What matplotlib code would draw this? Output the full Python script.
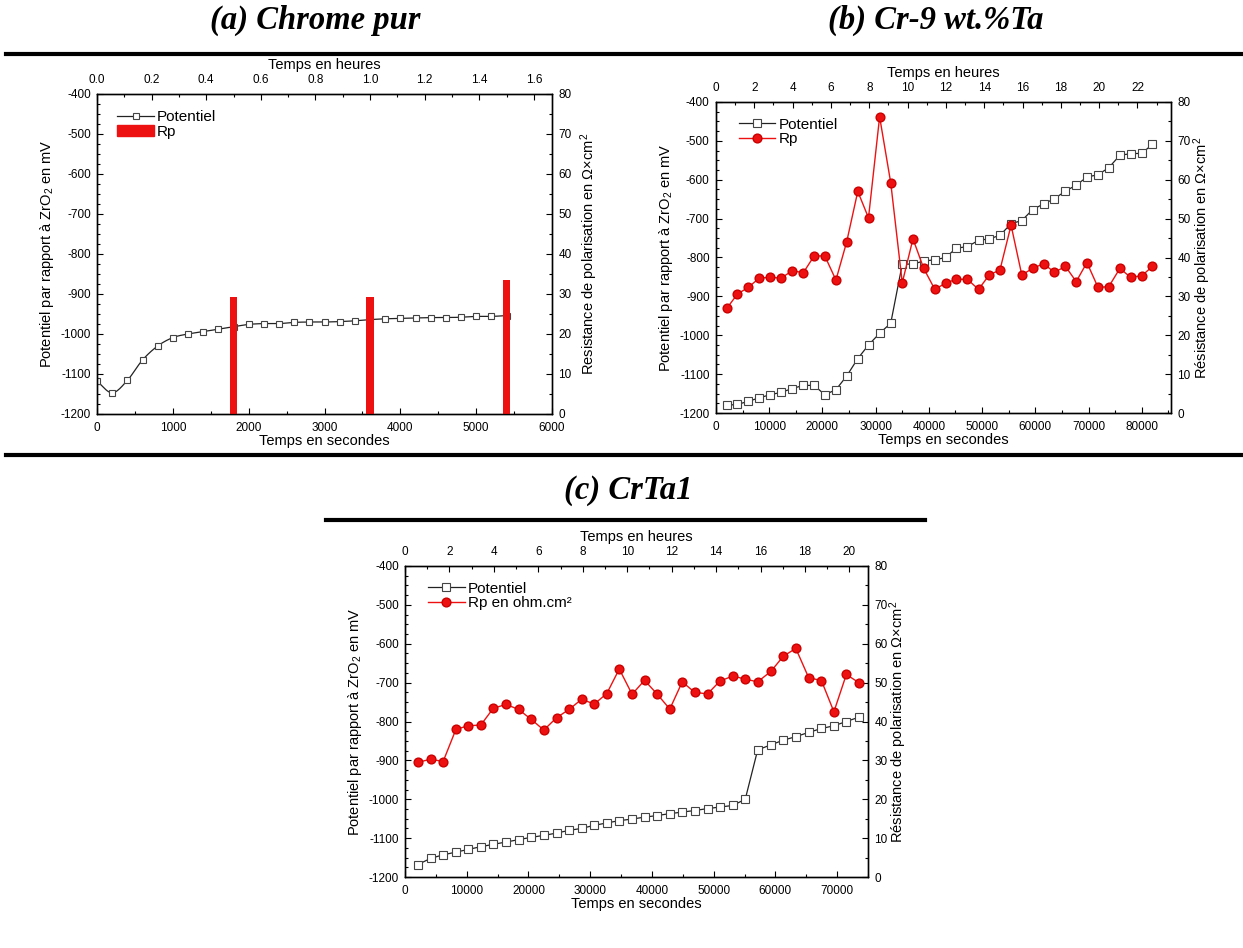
import numpy as np
import matplotlib
matplotlib.use('Agg')
import matplotlib.pyplot as plt
from matplotlib.lines import Line2D
from matplotlib.patches import Patch
from matplotlib.ticker import MultipleLocator, AutoMinorLocator

plt.rcParams.update({
    'font.family': ['Liberation Sans', 'DejaVu Sans'],
    'axes.unicode_minus': False,
    'mathtext.fontset': 'custom',
    'mathtext.rm': 'Liberation Sans',
    'mathtext.it': 'Liberation Sans:italic',
    'xtick.direction': 'in',
    'ytick.direction': 'in',
})

# (a) Chrome pur
t_a = [0, 200, 400, 600, 800, 1000, 1200, 1400, 1600, 1800, 2000, 2200, 2400, 2600,
       2800, 3000, 3200, 3400, 3600, 3800, 4000, 4200, 4400, 4600, 4800, 5000, 5200, 5400]
e_a = [-1118, -1147, -1116, -1065, -1030, -1009, -1000, -994, -988, -982, -976, -974, -974, -971,
       -970, -970, -969, -967, -964, -962, -961, -960, -959, -959, -958, -956, -956, -954]
rp_t_a = [1800, 3600, 5400]
rp_a = [29.2, 29.2, 33.5]

# (b) Cr-9 wt.%Ta
t_b = [2015, 4030, 6045, 8134, 10150, 12239, 14328, 16418, 18433, 20448,
       22537, 24552, 26642, 28657, 30746, 32836, 35000, 37015, 39030, 41119,
       43134, 45149, 47239, 49328, 51343, 53358, 55448, 57463, 59478, 61567,
       63582, 65672, 67687, 69701, 71791, 73806, 75895, 77910, 80000, 82015]
e_b = [-1180, -1178, -1170, -1161, -1153, -1147, -1137, -1129, -1129, -1153,
       -1140, -1105, -1060, -1025, -995, -969, -817, -817, -809, -806,
       -800, -776, -772, -756, -752, -743, -713, -705, -677, -662,
       -649, -629, -614, -593, -587, -569, -537, -533, -532, -509]
rp_b = [26.9, 30.6, 32.3, 34.7, 34.9, 34.7, 36.6, 36.1, 40.4, 40.4,
        34.2, 44.0, 57.0, 50.2, 76.2, 59.2, 33.5, 44.8, 37.2, 31.8,
        33.4, 34.4, 34.4, 31.8, 35.5, 36.8, 48.3, 35.5, 37.2, 38.4,
        36.2, 37.7, 33.8, 38.7, 32.3, 32.5, 37.2, 34.9, 35.3, 37.7]

# (c) CrTa1
t_c = [2080, 4160, 6175, 8254, 10269, 12284, 14299, 16378, 18393, 20408,
       22488, 24567, 26582, 28597, 30677, 32692, 34707, 36787, 38801, 40816,
       42896, 44911, 46926, 49005, 51020, 53100, 55115, 57130, 59275, 61289,
       63304, 65384, 67463, 69478, 71493, 73508]
e_c = [-1168, -1152, -1143, -1136, -1129, -1122, -1116, -1110, -1104, -1098,
       -1093, -1087, -1080, -1075, -1067, -1061, -1055, -1051, -1046, -1042,
       -1037, -1033, -1029, -1024, -1020, -1016, -1000, -873, -860, -848,
       -839, -828, -818, -811, -800, -789]
rp_c = [29.5, 30.3, 29.7, 38.0, 38.9, 39.1, 43.4, 44.4, 43.1, 40.6,
        37.8, 41.0, 43.1, 45.7, 44.5, 47.2, 53.5, 47.0, 50.6, 47.1,
        43.2, 50.2, 47.5, 47.1, 50.4, 51.7, 50.9, 50.2, 52.9, 56.8,
        58.8, 51.3, 50.5, 42.5, 52.1, 50.0]

RED = '#ee1111'


def catmull_rom(x, y, n=12):
    x = np.asarray(x, float)
    y = np.asarray(y, float)
    px = np.concatenate([[2 * x[0] - x[1]], x, [2 * x[-1] - x[-2]]])
    py = np.concatenate([[2 * y[0] - y[1]], y, [2 * y[-1] - y[-2]]])
    s = np.linspace(0, 1, n, endpoint=False)
    xs, ys = [], []
    for i in range(1, len(px) - 2):
        for p, out in ((px, xs), (py, ys)):
            p0, p1, p2, p3 = p[i - 1], p[i], p[i + 1], p[i + 2]
            out.append(0.5 * (2 * p1 + (-p0 + p2) * s
                              + (2 * p0 - 5 * p1 + 4 * p2 - p3) * s ** 2
                              + (-p0 + 3 * p1 - 3 * p2 + p3) * s ** 3))
    return np.concatenate(xs + [[x[-1]]]), np.concatenate(ys + [[y[-1]]])


def panel(rect, xmax, xmajor, hmajor, rlabel):
    ax = fig.add_axes(rect)
    ax.set_xlim(0, xmax)
    ax.set_ylim(-1200, -400)
    ax.xaxis.set_major_locator(MultipleLocator(xmajor))
    ax.xaxis.set_minor_locator(AutoMinorLocator(2))
    ax.yaxis.set_major_locator(MultipleLocator(100))
    ax.yaxis.set_minor_locator(AutoMinorLocator(4))
    ax.set_xlabel('Temps en secondes', fontsize=10.5, labelpad=0)
    ax.set_ylabel(r'Potentiel par rapport à ZrO$_\mathregular{2}$ en mV', fontsize=10.5, labelpad=3)

    axr = ax.twinx()
    axr.set_ylim(0, 80)
    axr.yaxis.set_major_locator(MultipleLocator(10))
    axr.yaxis.set_minor_locator(AutoMinorLocator(2))
    axr.set_ylabel(rlabel, fontsize=10.5, labelpad=4)

    axt = ax.twiny()
    axt.set_xlim(0, xmax / 3600)
    axt.xaxis.set_major_locator(MultipleLocator(hmajor))
    axt.xaxis.set_minor_locator(AutoMinorLocator(2))
    axt.set_xlabel('Temps en heures', fontsize=10.5, labelpad=3)

    for a in (ax, axr, axt):
        a.tick_params(which='major', length=4.5, width=0.8, labelsize=8.5, pad=4.5)
        a.tick_params(which='minor', length=2.5, width=0.8)
        for sp in a.spines.values():
            sp.set_linewidth(0.9)
    ax.tick_params(axis='x', pad=6)
    axt.tick_params(axis='x', pad=6)
    return ax, axr, axt


fig = plt.figure(figsize=(12.43, 9.48), dpi=100)
W, H = 1243.0, 948.0


def rect(l, r, t, b):
    return [l / W, 1 - b / H, (r - l) / W, (b - t) / H]


sq = dict(color='#222222', marker='s', markersize=5.5, markerfacecolor='white',
          markeredgecolor='#444444', markeredgewidth=0.8, linewidth=0.9)
rd = dict(color=RED, marker='o', markersize=6.3, markerfacecolor=RED,
          markeredgecolor='#cc0000', linewidth=1.0)
leg = dict(loc='upper left', frameon=False, fontsize=11, handlelength=2.4,
           handletextpad=0.2, labelspacing=0.05, borderaxespad=0, borderpad=0)

# panel (a)
ax, axr, axt = panel(rect(97, 552, 94, 414), 6000, 1000, 0.2,
                     'Resistance de polarisation en Ω×cm$^\\mathregular{2}$')
sx, sy = catmull_rom(t_a, e_a)
ax.plot(sx, sy, color='#222222', lw=0.9)
ax.plot(t_a, e_a, ls='none', marker='s', markersize=5, markerfacecolor='white',
        markeredgecolor='#444444', markeredgewidth=0.8)
axr.bar(rp_t_a, rp_a, width=100, color=RED, zorder=3)
axr.yaxis.set_label_coords(1.058, 0.5)
h = [Line2D([], [], **dict(sq, markersize=5)), Patch(color=RED)]
axt.legend(h, ['Potentiel', 'Rp'], bbox_to_anchor=(0.045, 0.95), **leg)

# panel (b)
ax, axr, axt = panel(rect(716, 1171, 102, 413), 85500, 10000, 2,
                     'Résistance de polarisation en Ω×cm$^\\mathregular{2}$')
ax.plot(t_b, e_b, **sq)
axr.plot(t_b, rp_b, **rd)
axr.yaxis.set_label_coords(1.045, 0.5)
h = [Line2D([], [], **sq), Line2D([], [], **rd)]
axt.legend(h, ['Potentiel', 'Rp'], bbox_to_anchor=(0.05, 0.95), **leg)

# panel (c)
ax, axr, axt = panel(rect(405, 868, 566, 877), 75000, 10000, 2,
                     'Résistance de polarisation en Ω×cm$^\\mathregular{2}$')
ax.plot(t_c, e_c, **sq)
axr.plot(t_c, rp_c, **rd)
axr.yaxis.set_label_coords(1.042, 0.5)
h = [Line2D([], [], **sq), Line2D([], [], **rd)]
axt.legend(h, ['Potentiel', 'Rp en ohm.cm²'], bbox_to_anchor=(0.05, 0.95), **leg)

# titles and separators
tfont = dict(family='Liberation Serif', weight='bold', style='italic', fontsize=23.5,
             ha='center', va='center')
fig.text(315 / W, 1 - 20 / H, '(a) Chrome pur', **tfont)
fig.text(936 / W, 1 - 20 / H, '(b) Cr-9 wt.%Ta', **tfont)
fig.text(628 / W, 1 - 491 / H, '(c) CrTa1', **tfont)
for x0, x1, y in ((6, 1243, 54), (6, 1243, 455), (326, 925, 520)):
    fig.add_artist(Line2D([x0 / W, x1 / W], [1 - y / H, 1 - y / H],
                          transform=fig.transFigure, color='black', lw=3))

fig.savefig('out.png', dpi=100)
